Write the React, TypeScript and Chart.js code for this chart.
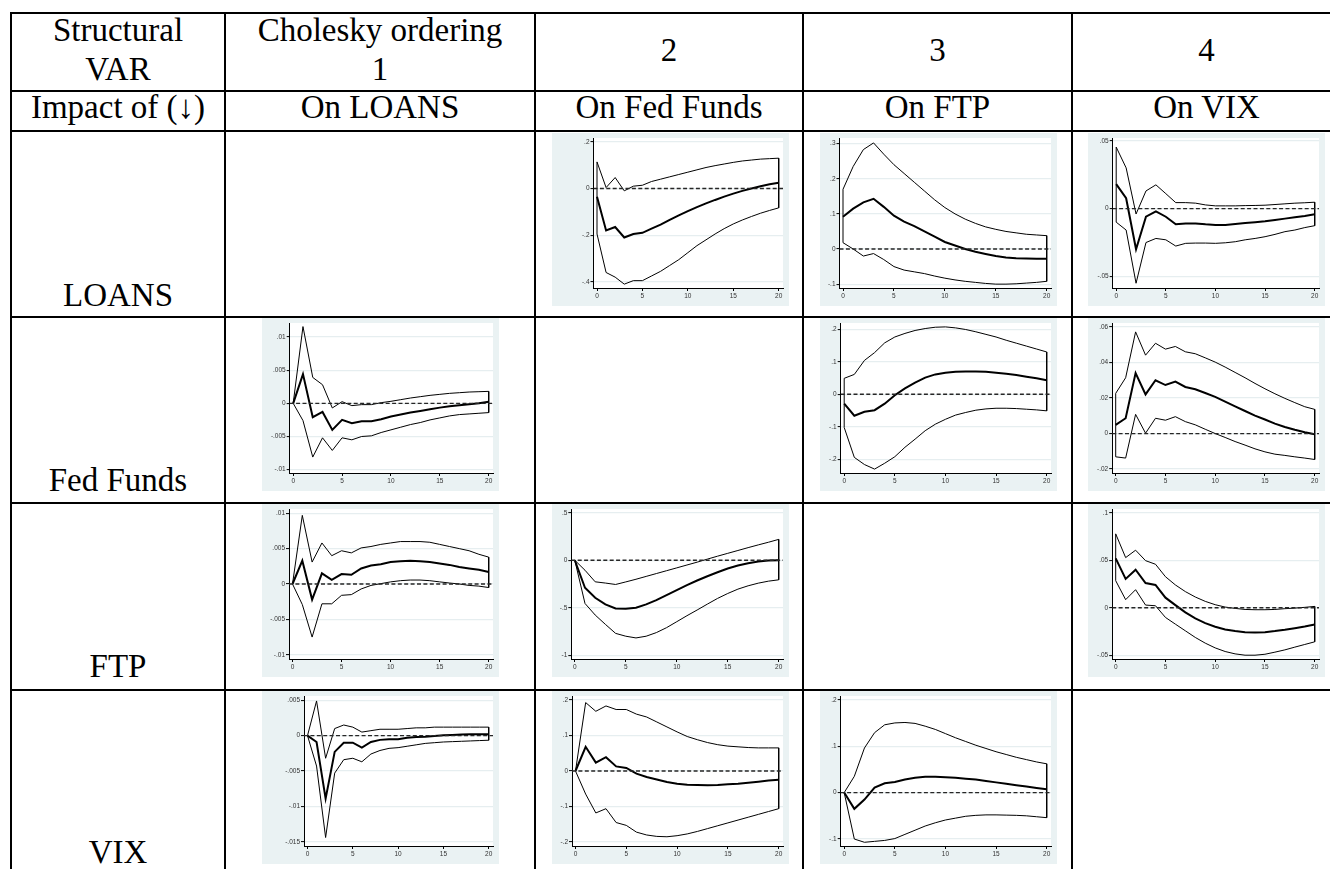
import React, { useEffect, useRef } from "react";
import { Chart, registerables } from "chart.js";

Chart.register(...registerables);

// ---------------- data ----------------
const steps = [0, 1, 2, 3, 4, 5, 6, 7, 8, 9, 10, 11, 12, 13, 14, 15, 16, 17, 18, 19, 20];
const xTicks = [0, 5, 10, 15, 20];

// LOANS -> Fed Funds
const loansFedUpper = [0.114, 0.004, 0.047, -0.01, 0.01, 0.014, 0.03, 0.04, 0.05, 0.06, 0.07, 0.08, 0.09, 0.098, 0.105, 0.112, 0.118, 0.122, 0.126, 0.128, 0.13];
const loansFedIrf = [-0.035, -0.18, -0.165, -0.21, -0.195, -0.19, -0.172, -0.155, -0.134, -0.115, -0.097, -0.08, -0.064, -0.049, -0.035, -0.022, -0.01, 0.0, 0.01, 0.018, 0.025];
const loansFedLower = [-0.195, -0.36, -0.38, -0.41, -0.395, -0.395, -0.375, -0.355, -0.33, -0.305, -0.275, -0.245, -0.22, -0.195, -0.172, -0.152, -0.135, -0.12, -0.106, -0.094, -0.083];
const loansFedTicks = [-0.4, -0.2, 0, 0.2];
const loansFedRange = [-0.4265, 0.2165];

// LOANS -> FTP
const loansFtpUpper = [0.17, 0.235, 0.283, 0.302, 0.27, 0.24, 0.215, 0.19, 0.165, 0.14, 0.118, 0.1, 0.085, 0.073, 0.063, 0.056, 0.05, 0.046, 0.042, 0.04, 0.038];
const loansFtpIrf = [0.092, 0.115, 0.133, 0.143, 0.12, 0.095, 0.078, 0.065, 0.05, 0.035, 0.02, 0.01, 0.0, -0.008, -0.014, -0.02, -0.024, -0.026, -0.027, -0.028, -0.028];
const loansFtpLower = [0.018, 0.0, -0.02, -0.013, -0.03, -0.05, -0.06, -0.065, -0.07, -0.077, -0.083, -0.088, -0.092, -0.095, -0.098, -0.1, -0.1, -0.099, -0.097, -0.095, -0.092];
const loansFtpTicks = [-0.1, 0, 0.1, 0.2, 0.3];
const loansFtpRange = [-0.111, 0.316];

// LOANS -> VIX
const loansVixUpper = [0.0453, 0.03, -0.004, 0.013, 0.0175, 0.011, 0.0044, 0.0044, 0.004, 0.0027, 0.002, 0.002, 0.002, 0.0022, 0.0023, 0.0025, 0.003, 0.0035, 0.004, 0.0043, 0.0047];
const loansVixIrf = [0.018, 0.0076, -0.03, -0.006, -0.002, -0.006, -0.0116, -0.011, -0.011, -0.0116, -0.012, -0.012, -0.0113, -0.0107, -0.01, -0.0094, -0.0084, -0.0074, -0.0064, -0.0054, -0.0042];
const loansVixLower = [-0.01, -0.0158, -0.055, -0.025, -0.022, -0.023, -0.0276, -0.0256, -0.0254, -0.0254, -0.0256, -0.0252, -0.0244, -0.023, -0.022, -0.0207, -0.019, -0.017, -0.0158, -0.014, -0.0126];
const loansVixTicks = [-0.05, 0, 0.05];
const loansVixRange = [-0.0585, 0.052];

// Fed Funds -> LOANS
const fedLoansUpper = [0, 0.01156, 0.0039, 0.0028, -0.0007, 0.00025, -0.00035, -0.0002, -0.0002, 0.0001, 0.0003, 0.00055, 0.0008, 0.001, 0.0012, 0.00135, 0.0015, 0.0016, 0.0017, 0.00175, 0.0018];
const fedLoansIrf = [0, 0.0044, -0.0021, -0.0013, -0.004, -0.0025, -0.003, -0.0027, -0.0027, -0.0024, -0.002, -0.0017, -0.0014, -0.00115, -0.0009, -0.00065, -0.00045, -0.0003, -0.00015, 0, 0.00025];
const fedLoansLower = [0, -0.0026, -0.0081, -0.0052, -0.0071, -0.0052, -0.0055, -0.005, -0.0049, -0.0044, -0.004, -0.0036, -0.0032, -0.0029, -0.0025, -0.0022, -0.0019, -0.0017, -0.0016, -0.0015, -0.0014];
const fedLoansTicks = [-0.01, -0.005, 0, 0.005, 0.01];
const fedLoansRange = [-0.0105, 0.0121];

// Fed Funds -> FTP
const fedFtpUpper = [0.049, 0.061, 0.104, 0.128, 0.158, 0.176, 0.187, 0.196, 0.202, 0.206, 0.207, 0.204, 0.199, 0.192, 0.184, 0.176, 0.166, 0.157, 0.148, 0.139, 0.13];
const fedFtpIrf = [-0.029, -0.066, -0.054, -0.049, -0.029, -0.003, 0.018, 0.036, 0.051, 0.061, 0.066, 0.069, 0.07, 0.07, 0.069, 0.066, 0.063, 0.059, 0.054, 0.049, 0.043];
const fedFtpLower = [-0.102, -0.194, -0.216, -0.23, -0.212, -0.192, -0.163, -0.138, -0.112, -0.092, -0.077, -0.064, -0.056, -0.049, -0.045, -0.043, -0.043, -0.044, -0.046, -0.048, -0.051];
const fedFtpTicks = [-0.2, -0.1, 0, 0.1, 0.2];
const fedFtpRange = [-0.242, 0.219];

// Fed Funds -> VIX
const fedVixUpper = [0.0226, 0.0314, 0.0572, 0.0441, 0.0508, 0.0475, 0.049, 0.046, 0.0449, 0.0426, 0.0402, 0.0374, 0.0344, 0.0314, 0.0282, 0.0252, 0.0224, 0.0198, 0.0174, 0.0151, 0.0136];
const fedVixIrf = [0.0049, 0.0086, 0.034, 0.022, 0.03, 0.0273, 0.0292, 0.0262, 0.0249, 0.0228, 0.0206, 0.018, 0.0153, 0.0127, 0.0101, 0.0079, 0.0056, 0.0037, 0.0021, 0.0007, -0.0004];
const fedVixLower = [-0.0131, -0.0138, 0.0108, 0.0002, 0.0086, 0.0075, 0.0095, 0.0067, 0.0049, 0.0024, 0, -0.0022, -0.0045, -0.0065, -0.0086, -0.0103, -0.0116, -0.0123, -0.0131, -0.0138, -0.0146];
const fedVixTicks = [-0.02, 0, 0.02, 0.04, 0.06];
const fedVixRange = [-0.0222, 0.0622];

// FTP -> LOANS
const ftpLoansUpper = [0, 0.0097, 0.0031, 0.0058, 0.004, 0.0047, 0.0044, 0.0051, 0.0053, 0.0056, 0.0058, 0.006, 0.006, 0.006, 0.0059, 0.0056, 0.0053, 0.005, 0.0047, 0.0042, 0.0038];
const ftpLoansIrf = [0, 0.0033, -0.0022, 0.0015, 0.0006, 0.0014, 0.0013, 0.0022, 0.0026, 0.0028, 0.0031, 0.0032, 0.0033, 0.0032, 0.0031, 0.0029, 0.0027, 0.0024, 0.0022, 0.002, 0.0017];
const ftpLoansLower = [0, -0.0029, -0.0075, -0.0028, -0.0028, -0.0016, -0.0015, -0.0007, -0.0002, 0.00005, 0.0003, 0.00047, 0.00056, 0.00056, 0.00047, 0.0003, 0.00014, 0, -0.0002, -0.0003, -0.0005];
const ftpLoansTicks = [-0.01, -0.005, 0, 0.005, 0.01];
const ftpLoansRange = [-0.0106, 0.0106];

// FTP -> Fed Funds
const ftpFedUpper = [0, -0.105, -0.227, -0.24, -0.255, -0.228, -0.2, -0.17, -0.14, -0.11, -0.08, -0.05, -0.02, 0.012, 0.043, 0.073, 0.103, 0.133, 0.162, 0.19, 0.22];
const ftpFedIrf = [0, -0.29, -0.395, -0.465, -0.507, -0.51, -0.5, -0.465, -0.42, -0.367, -0.315, -0.262, -0.213, -0.168, -0.126, -0.087, -0.056, -0.031, -0.014, -0.003, 0];
const ftpFedLower = [0, -0.455, -0.577, -0.675, -0.77, -0.8, -0.818, -0.8, -0.762, -0.71, -0.647, -0.584, -0.524, -0.462, -0.402, -0.35, -0.304, -0.269, -0.241, -0.22, -0.206];
const ftpFedTicks = [-1, -0.5, 0, 0.5];
const ftpFedRange = [-1.04, 0.54];

// FTP -> VIX
const ftpVixUpper = [0.0778, 0.0528, 0.0606, 0.0496, 0.0458, 0.0327, 0.024, 0.017, 0.0113, 0.0067, 0.0032, 0.0007, -0.0007, -0.0018, -0.0021, -0.0021, -0.0018, -0.001, -0.0004, 0.0004, 0.0014];
const ftpVixIrf = [0.052, 0.0303, 0.04, 0.026, 0.024, 0.0106, 0.0028, -0.0049, -0.0113, -0.0162, -0.02, -0.0229, -0.0246, -0.0257, -0.026, -0.0257, -0.0246, -0.0232, -0.0215, -0.0197, -0.0176];
const ftpVixLower = [0.0285, 0.0085, 0.019, 0.0028, 0.0021, -0.0102, -0.0173, -0.0243, -0.0313, -0.0373, -0.0423, -0.0461, -0.0486, -0.05, -0.05, -0.049, -0.0468, -0.0444, -0.0415, -0.0387, -0.0359];
const ftpVixTicks = [-0.05, 0, 0.05, 0.1];
const ftpVixRange = [-0.054, 0.104];

// VIX -> LOANS
const vixLoansUpper = [0, 0.0049, -0.0032, 0.001, 0.0015, 0.0012, 0.0005, 0.0007, 0.0009, 0.0009, 0.0009, 0.001, 0.0011, 0.0011, 0.0012, 0.0012, 0.0012, 0.0012, 0.0012, 0.0012, 0.0012];
const vixLoansIrf = [0, -0.0009, -0.0089, -0.0023, -0.001, -0.001, -0.0017, -0.0009, -0.0006, -0.0005, -0.0005, -0.0003, -0.0002, -0.00015, -0.00005, 0.00005, 0.0001, 0.00015, 0.0002, 0.0002, 0.0002];
const vixLoansLower = [0, -0.0043, -0.0144, -0.0053, -0.0034, -0.0032, -0.0037, -0.0026, -0.0021, -0.0018, -0.0017, -0.0015, -0.0013, -0.0011, -0.001, -0.0009, -0.00085, -0.0008, -0.00075, -0.0007, -0.00065];
const vixLoansTicks = [-0.015, -0.01, -0.005, 0, 0.005];
const vixLoansRange = [-0.0156, 0.0056];

// VIX -> Fed Funds
const vixFedUpper = [0, 0.1925, 0.168, 0.183, 0.173, 0.173, 0.16, 0.152, 0.138, 0.124, 0.11, 0.097, 0.088, 0.08, 0.074, 0.07, 0.068, 0.066, 0.065, 0.065, 0.065];
const vixFedIrf = [0, 0.068, 0.0235, 0.039, 0.013, 0.0085, -0.0075, -0.017, -0.024, -0.031, -0.0357, -0.0385, -0.0394, -0.04, -0.0394, -0.0376, -0.0357, -0.033, -0.03, -0.027, -0.0244];
const vixFedLower = [0, -0.065, -0.118, -0.106, -0.145, -0.153, -0.172, -0.18, -0.184, -0.185, -0.182, -0.177, -0.17, -0.162, -0.154, -0.146, -0.138, -0.13, -0.122, -0.114, -0.106];
const vixFedTicks = [-0.2, -0.1, 0, 0.1, 0.2];
const vixFedRange = [-0.211, 0.211];

// VIX -> FTP
const vixFtpUpper = [0, 0.035, 0.096, 0.129, 0.146, 0.15, 0.151, 0.149, 0.143, 0.136, 0.127, 0.118, 0.11, 0.102, 0.095, 0.088, 0.082, 0.076, 0.071, 0.066, 0.062];
const vixFtpIrf = [0, -0.035, -0.015, 0.011, 0.02, 0.023, 0.028, 0.032, 0.034, 0.034, 0.033, 0.032, 0.03, 0.028, 0.025, 0.022, 0.019, 0.016, 0.013, 0.01, 0.007];
const vixFtpLower = [0, -0.1, -0.107, -0.105, -0.103, -0.099, -0.09, -0.081, -0.072, -0.065, -0.059, -0.055, -0.051, -0.049, -0.048, -0.048, -0.0485, -0.049, -0.05, -0.052, -0.054];
const vixFtpTicks = [-0.1, 0, 0.1, 0.2];
const vixFtpRange = [-0.115, 0.208];

// ---------------- layout ----------------
const COL_LINES = [11, 225, 535, 803, 1072];
const ROW_LINES = [13, 91, 131, 317, 503, 690];
const COL_RIGHT = 1341;
const CHART_W = 237;
const CHART_H = 173;
const CHART_LEFT = [0, 262, 552, 820, 1088]; // per column (col 0 unused)
const CHART_TOP = [133, 318, 504, 691]; // per variable row

type Panel = {
  row: number;
  col: number;
  axisW: number;
  upper: number[];
  irf: number[];
  lower: number[];
  ticks: number[];
  range: number[];
};

const PANELS: Panel[] = [
  { row: 0, col: 2, axisW: 41.5, upper: loansFedUpper, irf: loansFedIrf, lower: loansFedLower, ticks: loansFedTicks, range: loansFedRange },
  { row: 0, col: 3, axisW: 19.5, upper: loansFtpUpper, irf: loansFtpIrf, lower: loansFtpLower, ticks: loansFtpTicks, range: loansFtpRange },
  { row: 0, col: 4, axisW: 24.7, upper: loansVixUpper, irf: loansVixIrf, lower: loansVixLower, ticks: loansVixTicks, range: loansVixRange },
  { row: 1, col: 1, axisW: 27.7, upper: fedLoansUpper, irf: fedLoansIrf, lower: fedLoansLower, ticks: fedLoansTicks, range: fedLoansRange },
  { row: 1, col: 3, axisW: 20.7, upper: fedFtpUpper, irf: fedFtpIrf, lower: fedFtpLower, ticks: fedFtpTicks, range: fedFtpRange },
  { row: 1, col: 4, axisW: 24.2, upper: fedVixUpper, irf: fedVixIrf, lower: fedVixLower, ticks: fedVixTicks, range: fedVixRange },
  { row: 2, col: 1, axisW: 27, upper: ftpLoansUpper, irf: ftpLoansIrf, lower: ftpLoansLower, ticks: ftpLoansTicks, range: ftpLoansRange },
  { row: 2, col: 2, axisW: 19.3, upper: ftpFedUpper, irf: ftpFedIrf, lower: ftpFedLower, ticks: ftpFedTicks, range: ftpFedRange },
  { row: 2, col: 4, axisW: 24.2, upper: ftpVixUpper, irf: ftpVixIrf, lower: ftpVixLower, ticks: ftpVixTicks, range: ftpVixRange },
  { row: 3, col: 1, axisW: 42, upper: vixLoansUpper, irf: vixLoansIrf, lower: vixLoansLower, ticks: vixLoansTicks, range: vixLoansRange },
  { row: 3, col: 2, axisW: 20, upper: vixFedUpper, irf: vixFedIrf, lower: vixFedLower, ticks: vixFedTicks, range: vixFedRange },
  { row: 3, col: 3, axisW: 20.7, upper: vixFtpUpper, irf: vixFtpIrf, lower: vixFtpLower, ticks: vixFtpTicks, range: vixFtpRange },
];

const headerTop = ["Structural", "Cholesky ordering", "2", "3", "4"];
const headerSecond = ["VAR", "1", "", "", ""];
const headerImpact = ["Impact of (\u2193)", "On LOANS", "On Fed Funds", "On FTP", "On VIX"];
const rowLabels = ["LOANS", "Fed Funds", "FTP", "VIX"];
const rowLabelBaselines = [307, 492, 678, 864];

const SERIF = '"Liberation Serif", "Times New Roman", serif';
const BG = "#EAF2F3";
const FONT_PX = 33;

function fmtTick(v: number): string {
  if (Math.abs(v) < 1e-12) return "0";
  let s = String(Number(v.toFixed(6)));
  s = s.replace(/^(-?)0\./, "$1.");
  return s;
}

const whiteArea = {
  id: "whiteArea",
  beforeDraw(chart: any) {
    const { ctx, chartArea } = chart;
    ctx.save();
    ctx.fillStyle = "#ffffff";
    ctx.fillRect(chartArea.left, chartArea.top, chartArea.right - chartArea.left, chartArea.bottom - chartArea.top);
    ctx.restore();
  },
};

function IrfPanel({ p }: { p: Panel }) {
  const ref = useRef<HTMLCanvasElement | null>(null);
  useEffect(() => {
    if (!ref.current) return;
    const rightEdge = 231; // plot region right edge within panel
    const x20 = 226.7;
    const x0 = p.axisW + 3.5;
    const ppu = (x20 - x0) / 20;
    const xMin = -3.5 / ppu;
    const xMax = 20 + (rightEdge - x20) / ppu;
    const n = steps.length;
    const band = [
      ...steps.map((s, i) => ({ x: s, y: p.upper[i] })),
      ...steps.map((_, k) => ({ x: steps[n - 1 - k], y: p.lower[n - 1 - k] })),
      { x: steps[0], y: p.upper[0] },
    ];
    const irf = steps.map((s, i) => ({ x: s, y: p.irf[i] }));
    const zero = [
      { x: xMin, y: 0 },
      { x: xMax, y: 0 },
    ];
    const chart = new Chart(ref.current, {
      type: "line",
      data: {
        datasets: [
          { data: zero, borderColor: "#262626", borderWidth: 1.3, borderDash: [4, 2.4], pointRadius: 0, fill: false, tension: 0, order: 0 } as any,
          { data: irf, borderColor: "#000", borderWidth: 2, pointRadius: 0, fill: false, tension: 0, order: 1 } as any,
          { data: band, borderColor: "#000", borderWidth: 1, pointRadius: 0, fill: false, tension: 0, order: 2 } as any,
        ],
      },
      options: {
        animation: false,
        responsive: false,
        maintainAspectRatio: false,
        events: [],
        layout: { padding: { top: 5, right: CHART_W - rightEdge, left: 0, bottom: 0 } },
        plugins: { legend: { display: false }, tooltip: { enabled: false }, title: { display: false } },
        scales: {
          x: {
            type: "linear",
            min: xMin,
            max: xMax,
            afterBuildTicks: (s: any) => {
              s.ticks = xTicks.map((v) => ({ value: v }));
            },
            afterFit: (s: any) => {
              s.height = 18;
            },
            grid: { drawOnChartArea: false, drawTicks: true, tickLength: 3, tickColor: "#000", tickWidth: 1 },
            border: { display: true, color: "#000", width: 1 },
            ticks: {
              autoSkip: false,
              maxRotation: 0,
              padding: 1,
              color: "#333",
              font: { size: 6.5, family: '"Liberation Sans", Arial, sans-serif' },
              callback: (v: any) => fmtTick(Number(v)),
            },
          },
          y: {
            type: "linear",
            min: p.range[0],
            max: p.range[1],
            afterBuildTicks: (s: any) => {
              s.ticks = p.ticks.map((v) => ({ value: v }));
            },
            afterFit: (s: any) => {
              s.width = p.axisW;
            },
            grid: { color: "#E6EEF0", lineWidth: 1.2, drawTicks: true, tickLength: 3, tickColor: "#000", tickWidth: 1 },
            border: { display: true, color: "#000", width: 1 },
            ticks: {
              autoSkip: false,
              padding: 1,
              color: "#333",
              font: { size: 6.5, family: '"Liberation Sans", Arial, sans-serif' },
              callback: (v: any) => fmtTick(Number(v)),
            },
          },
        },
      } as any,
      plugins: [whiteArea],
    });
    return () => chart.destroy();
  }, [p]);
  return (
    <div
      style={{
        position: "absolute",
        left: CHART_LEFT[p.col],
        top: CHART_TOP[p.row],
        width: CHART_W,
        height: CHART_H,
        background: BG,
      }}
    >
      <canvas ref={ref} width={CHART_W} height={CHART_H} style={{ display: "block", width: CHART_W, height: CHART_H }} />
    </div>
  );
}

function Label({ col, baseline, text }: { col: number; baseline: number; text: string }) {
  const left = COL_LINES[col];
  const right = col + 1 < COL_LINES.length ? COL_LINES[col + 1] : COL_RIGHT;
  return (
    <div
      style={{
        position: "absolute",
        left,
        width: right - left,
        top: baseline - 27.6,
        height: FONT_PX,
        lineHeight: FONT_PX + "px",
        fontSize: FONT_PX,
        fontFamily: SERIF,
        textAlign: "center",
        whiteSpace: "nowrap",
        color: "#000",
      }}
    >
      {text}
    </div>
  );
}

export default function App() {
  const lines: React.ReactNode[] = [];
  ROW_LINES.forEach((y, i) =>
    lines.push(
      <div key={"h" + i} style={{ position: "absolute", left: COL_LINES[0] - 1, top: y - 1, width: 1400, height: 2, background: "#000" }} />
    )
  );
  COL_LINES.forEach((x, i) =>
    lines.push(
      <div key={"v" + i} style={{ position: "absolute", left: x - 1, top: ROW_LINES[0] - 1, width: 2, height: 900, background: "#000" }} />
    )
  );
  return (
    <div style={{ position: "fixed", left: 0, top: 0, width: 1330, height: 869, overflow: "hidden", background: "#fff" }}>
      {PANELS.map((p, i) => (
        <IrfPanel key={i} p={p} />
      ))}
      {lines}
      {headerTop.map((t, c) => (
        <Label key={"t" + c} col={c} baseline={headerSecond[c] ? 42 : 62} text={t} />
      ))}
      {headerSecond.map((t, c) => (t ? <Label key={"s" + c} col={c} baseline={81} text={t} /> : null))}
      {headerImpact.map((t, c) => (
        <Label key={"i" + c} col={c} baseline={119} text={t} />
      ))}
      {rowLabels.map((t, r) => (
        <Label key={"r" + r} col={0} baseline={rowLabelBaselines[r]} text={t} />
      ))}
    </div>
  );
}
